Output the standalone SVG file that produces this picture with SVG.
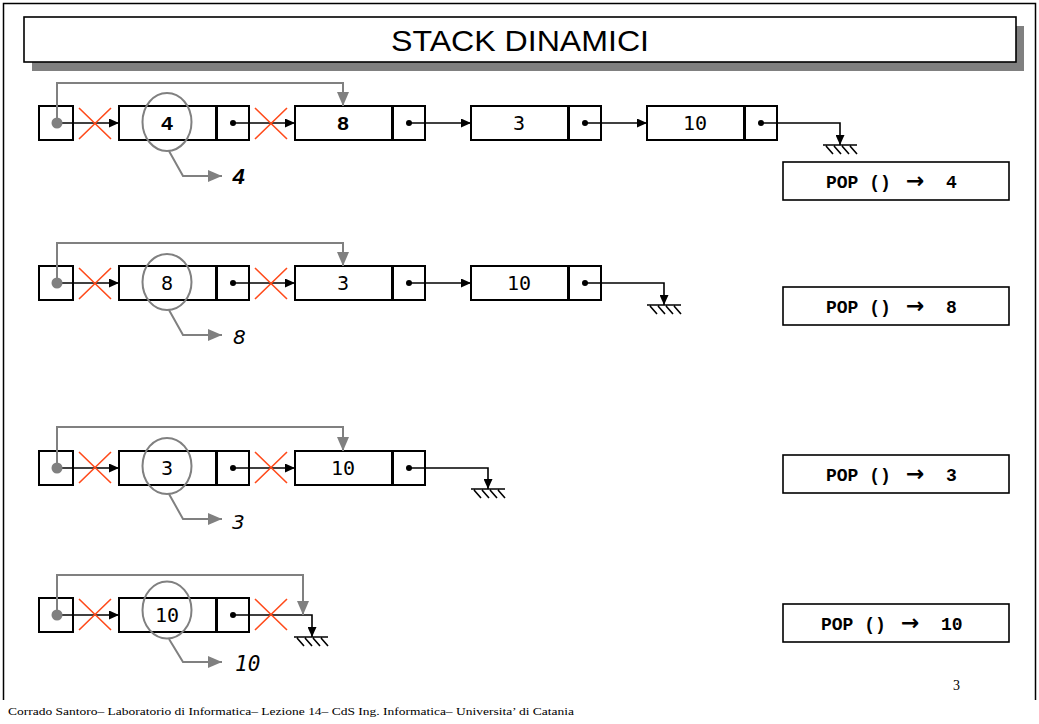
<svg xmlns="http://www.w3.org/2000/svg" width="1039" height="724" viewBox="0 0 1039 724">
<style>
.box{fill:#fff;stroke:#000;stroke-width:2}
.ln{fill:none;stroke:#000;stroke-width:1.6}
.gl{fill:none;stroke:#808080;stroke-width:2}
.x{stroke:#ff4a1a;stroke-width:1.6}
.dot{fill:#000}
.hd{fill:#808080}
.ell{fill:none;stroke:#808080;stroke-width:2}
.cm{font-family:"Liberation Mono",monospace;font-weight:bold;font-size:21px;text-anchor:middle}
.dm{font-family:"DejaVu Sans Mono",monospace;font-size:20px;text-anchor:middle}
.ds{font-family:"DejaVu Sans",sans-serif;font-size:19px;text-anchor:middle}
.pop{font-family:"Liberation Mono",monospace;font-weight:bold;font-size:18px}
.arr{font-family:"DejaVu Sans",sans-serif;font-weight:bold;font-size:22px}
.popbox{fill:#fff;stroke:#000;stroke-width:1.6}
</style>
<defs>
<marker id="ab" markerUnits="userSpaceOnUse" markerWidth="10" markerHeight="9" refX="10" refY="4.5" orient="auto"><path d="M0,0 L10,4.5 L0,9 z" fill="#000"/></marker>
<marker id="ag" markerUnits="userSpaceOnUse" markerWidth="14" markerHeight="12" refX="14" refY="6" orient="auto"><path d="M0,0 L14,6 L0,12 z" fill="#808080"/></marker>
<g id="gnd"><path d="M-17,0 H17 M-14,1 l7,8 M-6,1 l7,8 M2,1 l7,8 M10,1 l7,8" fill="none" stroke="#000" stroke-width="1.6"/></g>
<g id="xx"><path d="M79,0 L111,31 M111,0 L79,31" class="x"/></g>
</defs>
<rect width="1039" height="724" fill="#fff"/>
<path d="M3.5,700 V3.5 H1035.5 V700" fill="none" stroke="#000" stroke-width="1.5"/>
<g id="title">
<rect x="32" y="26" width="992" height="45" fill="#808080"/>
<rect x="24" y="17" width="992" height="45" fill="#fff" stroke="#000" stroke-width="1.6"/>
<text x="520" y="51" font-family="Liberation Sans, sans-serif" font-size="30" text-anchor="middle" textLength="258" lengthAdjust="spacingAndGlyphs">STACK DINAMICI</text>
</g>

<!-- ROW 1 -->
<g id="r1-head"><rect x="39" y="106" width="34" height="34" class="box"/></g>
<g id="r1-n4"><rect x="119" y="106" width="97" height="34" class="box"/><rect x="217" y="106" width="32" height="34" class="box"/><text x="167" y="130" class="cm">4</text><circle cx="233" cy="123" r="3" class="dot"/></g>
<g id="r1-n8"><rect x="295" y="106" width="97" height="34" class="box"/><rect x="393" y="106" width="32" height="34" class="box"/><text x="343" y="130" class="cm">8</text><circle cx="409" cy="123" r="3" class="dot"/></g>
<g id="r1-n3"><rect x="471" y="106" width="97" height="34" class="box"/><rect x="569" y="106" width="32" height="34" class="box"/><text x="519" y="130" class="dm">3</text><circle cx="585" cy="123" r="3" class="dot"/></g>
<g id="r1-n10"><rect x="647" y="106" width="97" height="34" class="box"/><rect x="745" y="106" width="32" height="34" class="box"/><text x="695" y="130" class="dm">10</text><circle cx="761" cy="123" r="3" class="dot"/></g>
<g id="r1-pop"><rect x="783" y="162" width="226" height="38" class="popbox"/><text x="826" y="188"><tspan class="pop">POP ()</tspan><tspan class="arr" x="906">→</tspan><tspan class="pop" x="946">4</tspan></text></g>
<g id="r1-label"><text x="232" y="184" font-family="Liberation Mono, monospace" font-weight="bold" font-style="italic" font-size="22">4</text></g>

<!-- ROW 2 -->
<g id="r2-head"><rect x="39" y="266" width="34" height="34" class="box"/></g>
<g id="r2-n8"><rect x="119" y="266" width="97" height="34" class="box"/><rect x="217" y="266" width="32" height="34" class="box"/><text x="167" y="290" class="ds">8</text><circle cx="233" cy="283" r="3" class="dot"/></g>
<g id="r2-n3"><rect x="295" y="266" width="97" height="34" class="box"/><rect x="393" y="266" width="32" height="34" class="box"/><text x="343" y="290" class="ds">3</text><circle cx="409" cy="283" r="3" class="dot"/></g>
<g id="r2-n10"><rect x="471" y="266" width="97" height="34" class="box"/><rect x="569" y="266" width="32" height="34" class="box"/><text x="519" y="290" class="dm">10</text><circle cx="585" cy="283" r="3" class="dot"/></g>
<g id="r2-pop"><rect x="783" y="287" width="226" height="38" class="popbox"/><text x="826" y="313"><tspan class="pop">POP ()</tspan><tspan class="arr" x="906">→</tspan><tspan class="pop" x="946">8</tspan></text></g>
<g id="r2-label"><text x="233" y="344" font-family="DejaVu Sans, sans-serif" font-style="italic" font-size="20">8</text></g>

<!-- ROW 3 -->
<g id="r3-head"><rect x="39" y="451" width="34" height="34" class="box"/></g>
<g id="r3-n3"><rect x="119" y="451" width="97" height="34" class="box"/><rect x="217" y="451" width="32" height="34" class="box"/><text x="167" y="475" class="ds">3</text><circle cx="233" cy="468" r="3" class="dot"/></g>
<g id="r3-n10"><rect x="295" y="451" width="97" height="34" class="box"/><rect x="393" y="451" width="32" height="34" class="box"/><text x="343" y="475" class="dm">10</text><circle cx="409" cy="468" r="3" class="dot"/></g>
<g id="r3-pop"><rect x="783" y="455" width="226" height="38" class="popbox"/><text x="826" y="481"><tspan class="pop">POP ()</tspan><tspan class="arr" x="906">→</tspan><tspan class="pop" x="946">3</tspan></text></g>
<g id="r3-label"><text x="232" y="529" font-family="DejaVu Sans, sans-serif" font-style="italic" font-size="20">3</text></g>

<!-- ROW 4 -->
<g id="r4-head"><rect x="39" y="598" width="34" height="34" class="box"/></g>
<g id="r4-n10"><rect x="119" y="598" width="97" height="34" class="box"/><rect x="217" y="598" width="32" height="34" class="box"/><text x="167" y="622" class="dm">10</text><circle cx="233" cy="615" r="3" class="dot"/></g>
<g id="r4-pop"><rect x="783" y="604" width="226" height="38" class="popbox"/><text x="821" y="630"><tspan class="pop">POP ()</tspan><tspan class="arr" x="901">→</tspan><tspan class="pop" x="941">10</tspan></text></g>
<g id="r4-label"><text x="235" y="671" font-family="DejaVu Sans Mono, monospace" font-style="italic" font-size="21">10</text></g>

<g id="connectors">
<!-- row 1 -->
<path d="M57,123 H119" class="ln" marker-end="url(#ab)"/>
<path d="M233,123 H295" class="ln" marker-end="url(#ab)"/>
<path d="M409,123 H471" class="ln" marker-end="url(#ab)"/>
<path d="M585,123 H647" class="ln" marker-end="url(#ab)"/>
<path d="M761,123 H840 V145" class="ln" marker-end="url(#ab)"/>
<use href="#gnd" x="840" y="145"/>
<use href="#xx" x="0" y="108"/>
<use href="#xx" x="176" y="108"/>
<path d="M57,123 V83 H343 V106" class="gl" marker-end="url(#ag)"/>
<circle cx="57" cy="123" r="5.5" class="hd"/>
<ellipse cx="167" cy="122" rx="24.5" ry="29" class="ell"/>
<path d="M169,151 L183,176 H222" class="gl" marker-end="url(#ag)"/>
<!-- row 2 -->
<path d="M57,283 H119" class="ln" marker-end="url(#ab)"/>
<path d="M233,283 H295" class="ln" marker-end="url(#ab)"/>
<path d="M409,283 H471" class="ln" marker-end="url(#ab)"/>
<path d="M585,283 H664 V305" class="ln" marker-end="url(#ab)"/>
<use href="#gnd" x="664" y="305"/>
<use href="#xx" x="0" y="268"/>
<use href="#xx" x="176" y="268"/>
<path d="M57,283 V243 H343 V266" class="gl" marker-end="url(#ag)"/>
<circle cx="57" cy="283" r="5.5" class="hd"/>
<ellipse cx="167" cy="282" rx="24.5" ry="28" class="ell"/>
<path d="M169,310 L183,335 H222" class="gl" marker-end="url(#ag)"/>
<!-- row 3 -->
<path d="M57,468 H119" class="ln" marker-end="url(#ab)"/>
<path d="M233,468 H295" class="ln" marker-end="url(#ab)"/>
<path d="M409,468 H488 V489" class="ln" marker-end="url(#ab)"/>
<use href="#gnd" x="488" y="489"/>
<use href="#xx" x="0" y="452"/>
<use href="#xx" x="176" y="452"/>
<path d="M57,468 V427 H343 V451" class="gl" marker-end="url(#ag)"/>
<circle cx="57" cy="468" r="5.5" class="hd"/>
<ellipse cx="167" cy="466" rx="24.5" ry="28" class="ell"/>
<path d="M169,494 L183,519 H222" class="gl" marker-end="url(#ag)"/>
<!-- row 4 -->
<path d="M57,615 H119" class="ln" marker-end="url(#ab)"/>
<path d="M233,615 H312 V637" class="ln" marker-end="url(#ab)"/>
<use href="#gnd" x="311" y="637"/>
<use href="#xx" x="0" y="599"/>
<use href="#xx" x="176" y="599"/>
<path d="M57,615 V575 H303 V615" class="gl" marker-end="url(#ag)"/>
<circle cx="57" cy="615" r="5.5" class="hd"/>
<ellipse cx="167" cy="610" rx="24.5" ry="28.5" class="ell"/>
<path d="M169,639 L183,662 H222" class="gl" marker-end="url(#ag)"/>
</g>

<text x="953" y="690" font-family="Liberation Serif, serif" font-size="14">3</text>
<text x="8" y="715" font-family="Liberation Serif, serif" font-size="11" textLength="566" lengthAdjust="spacingAndGlyphs">Corrado Santoro– Laboratorio di Informatica– Lezione 14– CdS Ing. Informatica– Universita’ di Catania</text>
</svg>
